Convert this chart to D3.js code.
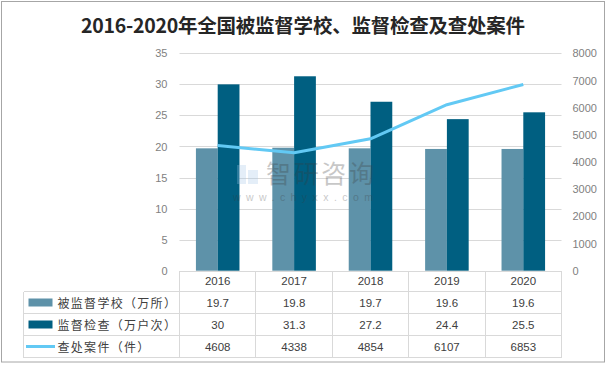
<!DOCTYPE html>
<html><head><meta charset="utf-8">
<script src="https://cdn.jsdelivr.net/npm/d3@7/dist/d3.min.js"></script>
<style>
html,body{margin:0;padding:0;background:#fff;}
svg{display:block;}
</style></head>
<body>
<svg id="chart" width="608" height="366"></svg>
<script>
const title = "2016-2020年全国被监督学校、监督检查及查处案件";
const years = ["2016","2017","2018","2019","2020"];
const schools = [19.7, 19.8, 19.7, 19.6, 19.6];
const inspections = [30, 31.3, 27.2, 24.4, 25.5];
const cases = [4608, 4338, 4854, 6107, 6853];
const seriesNames = ["被监督学校（万所）", "监督检查（万户次）", "查处案件（件）"];
const leftTicks = [0,5,10,15,20,25,30,35];
const rightTicks = [0,1000,2000,3000,4000,5000,6000,7000,8000];

const colLight = "#5e92a9", colDark = "#005f81", colLine = "#62c9f4";
const grid = "#d9d9d9", txt = "#404040", axisTxt = "#7f7f7f";
const numFont = "'Liberation Sans', Arial, sans-serif";
const cjkFont = "'Noto Sans CJK SC', 'Noto Sans', sans-serif";

const svg = d3.select("#chart");
const L = 179.5, R = 561.5, T = 53.3, B = 270.7;

// outer border
svg.append("rect").attr("x",1.5).attr("y",1.5).attr("width",603).attr("height",360.5)
  .attr("fill","#fff").attr("stroke","#a6a6a6").attr("stroke-width",1);

// title
svg.append("text").attr("x",303).attr("y",33).attr("text-anchor","middle")
  .attr("font-family",cjkFont).attr("font-weight","bold").attr("font-size",19.5)
  .attr("fill","#262626").attr("textLength",444).attr("lengthAdjust","spacing").text(title);

const x0 = d3.scaleBand().domain(years).range([L,R]).padding(0);
const bw = x0.bandwidth();
const gw = bw*0.57;
const x1 = d3.scaleBand().domain(["s","i"]).range([(bw-gw)/2,(bw+gw)/2]).padding(0);
const yL = d3.scaleLinear().domain([0,35]).range([B,T]);
const yR = d3.scaleLinear().domain([0,8000]).range([B,T]);

// gridlines
svg.append("g").selectAll("line").data(leftTicks.filter(d=>d>0)).join("line")
  .attr("x1",L).attr("x2",R).attr("y1",d=>Math.round(yL(d))+0.5).attr("y2",d=>Math.round(yL(d))+0.5)
  .attr("stroke",grid).attr("stroke-width",1);

// axes
const gl = svg.append("g").attr("transform",`translate(${L},0)`)
  .call(d3.axisLeft(yL).tickValues(leftTicks).tickSize(0).tickPadding(12).tickFormat(d3.format("d")));
const gr = svg.append("g").attr("transform",`translate(${R},0)`)
  .call(d3.axisRight(yR).tickValues(rightTicks).tickSize(0).tickPadding(11).tickFormat(d3.format("d")));
[gl,gr].forEach(g=>{
  g.select(".domain").remove();
  g.selectAll("text").attr("fill",axisTxt).attr("font-family",numFont).attr("font-size",11);
});

// bars
const groups = svg.append("g").selectAll("g").data(years).join("g")
  .attr("transform",d=>`translate(${x0(d)},0)`);
groups.append("rect").attr("x",x1("s")).attr("width",x1.bandwidth())
  .attr("y",(d,i)=>yL(schools[i])).attr("height",(d,i)=>B-yL(schools[i])).attr("fill",colLight);
groups.append("rect").attr("x",x1("i")).attr("width",x1.bandwidth())
  .attr("y",(d,i)=>yL(inspections[i])).attr("height",(d,i)=>B-yL(inspections[i])).attr("fill",colDark);

// line
const line = d3.line().x((d,i)=>x0(years[i])+bw/2).y(d=>yR(d));
svg.append("path").datum(cases).attr("d",line).attr("fill","none")
  .attr("stroke",colLine).attr("stroke-width",3).attr("stroke-linejoin","round");

// watermark (on top, translucent)
const wm = svg.append("g").attr("opacity",0.28);
wm.append("rect").attr("x",237).attr("y",165).attr("width",9).attr("height",19).attr("fill","#9fc4e8");
wm.append("rect").attr("x",248).attr("y",170).attr("width",10).attr("height",14).attr("fill","#9fc4e8");
wm.append("text").attr("x",266).attr("y",183).attr("font-family",cjkFont).attr("font-size",25)
  .attr("fill","#3a3a3a").attr("textLength",108).text("智研咨询");
wm.append("text").attr("x",233).attr("y",201).attr("font-family",numFont).attr("font-size",10.5)
  .attr("fill","#3a3a3a").attr("textLength",140).attr("lengthAdjust","spacing").text("www.chyxx.com");

// table
const TL = 23.5;
const rowY = [271, 291.5, 313.5, 335.5, 357.5];
const tg = svg.append("g").attr("stroke",grid).attr("stroke-width",1).attr("shape-rendering","crispEdges");
tg.append("line").attr("x1",L).attr("x2",R).attr("y1",rowY[0]).attr("y2",rowY[0]);
rowY.slice(1).forEach(y=>tg.append("line").attr("x1",TL).attr("x2",R).attr("y1",y).attr("y2",y));
tg.append("line").attr("x1",TL).attr("x2",TL).attr("y1",rowY[1]).attr("y2",rowY[4]);
[...years.map(y=>x0(y)), R].forEach(xv=>tg.append("line").attr("x1",xv).attr("x2",xv).attr("y1",rowY[0]).attr("y2",rowY[4]));

const cellText = (xv,yv,t)=>svg.append("text").attr("x",xv).attr("y",yv).attr("text-anchor","middle")
  .attr("dominant-baseline","central").attr("font-family",numFont).attr("font-size",11.5).attr("fill",txt).text(t);
years.forEach((yr,i)=>{
  const cx = x0(yr)+bw/2;
  cellText(cx,(rowY[0]+rowY[1])/2,yr);
  cellText(cx,(rowY[1]+rowY[2])/2,schools[i]);
  cellText(cx,(rowY[2]+rowY[3])/2,inspections[i]);
  cellText(cx,(rowY[3]+rowY[4])/2,cases[i]);
});

// legend in table rows
seriesNames.forEach((name,k)=>{
  const cy = (rowY[k+1]+rowY[k+2])/2;
  if(k<2){
    svg.append("rect").attr("x",28.5).attr("y",cy-4).attr("width",24).attr("height",8)
      .attr("fill",k===0?colLight:colDark);
  } else {
    svg.append("line").attr("x1",26).attr("x2",55).attr("y1",cy).attr("y2",cy)
      .attr("stroke",colLine).attr("stroke-width",3);
  }
  svg.append("text").attr("x",57.5).attr("y",cy).attr("dominant-baseline","central")
    .attr("font-family",cjkFont).attr("font-size",12).attr("letter-spacing","1.3px")
    .attr("fill",txt).text(name);
});
</script>
</body></html>
